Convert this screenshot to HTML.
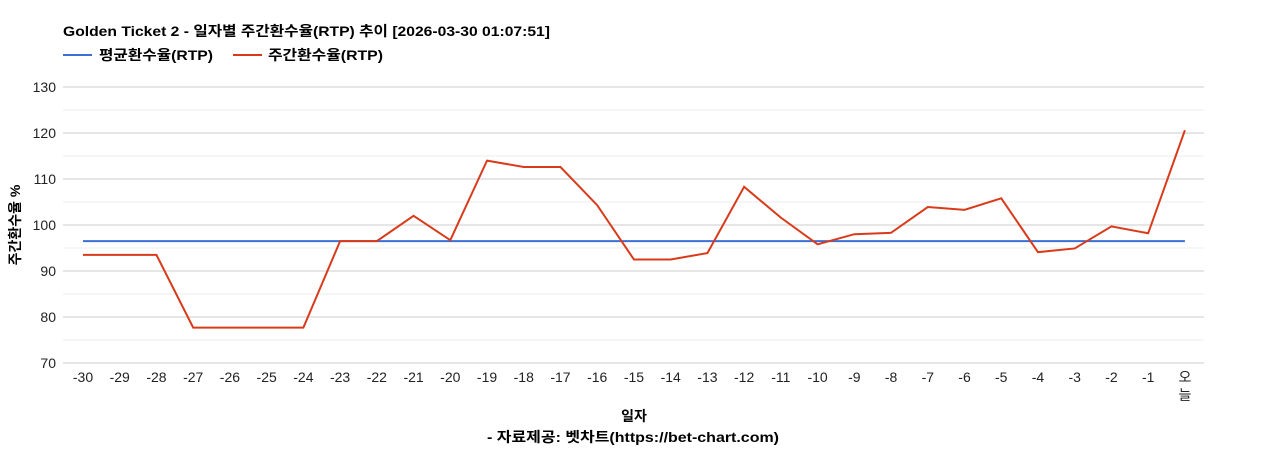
<!DOCTYPE html>
<html><head><meta charset="utf-8"><style>
body{margin:0;background:#fff;width:1268px;height:450px;overflow:hidden}
text{font-family:"Liberation Sans","Noto Sans CJK KR",sans-serif}
</style></head><body>
<svg width="1268" height="450" xmlns="http://www.w3.org/2000/svg">
<text x="63" y="36" font-size="14" font-weight="bold" fill="#000" textLength="487" lengthAdjust="spacingAndGlyphs">Golden Ticket 2 - 일자별 주간환수율(RTP) 추이 [2026-03-30 01:07:51]</text>
<line x1="63" y1="55" x2="92" y2="55" stroke="#3b6fd4" stroke-width="2"/>
<text x="99" y="60" font-size="14" font-weight="bold" textLength="114" lengthAdjust="spacingAndGlyphs">평균환수율(RTP)</text>
<line x1="233" y1="55" x2="262" y2="55" stroke="#d93a1a" stroke-width="2"/>
<text x="268" y="60" font-size="14" font-weight="bold" textLength="115" lengthAdjust="spacingAndGlyphs">주간환수율(RTP)</text>
<g id="grid"></g>
<g font-size="14" text-anchor="end" fill="#222" id="yl"></g>
<g font-size="14" text-anchor="middle" fill="#222" id="xl"></g>
<polyline id="avg" fill="none" stroke="#3b6fd4" stroke-width="2"/>
<polyline id="rtp" fill="none" stroke="#d93a1a" stroke-width="2"/>
<text transform="translate(20,225) rotate(-90)" font-size="14" font-weight="bold" text-anchor="middle">주간환수율 %</text>
<text x="634" y="421" font-size="14" font-weight="bold" text-anchor="middle">일자</text>
<text x="487" y="442" font-size="14" font-weight="bold" textLength="292" lengthAdjust="spacingAndGlyphs">- 자료제공: 벳차트(https://bet-chart.com)</text>
</svg>
<script>
const ns="http://www.w3.org/2000/svg";
const Y=v=>363-(v-70)*4.6, X=i=>83+i*36.73;
const g=document.getElementById('grid'),yl=document.getElementById('yl'),xl=document.getElementById('xl');
for(let v=70;v<=130;v+=5){const l=document.createElementNS(ns,'line');l.setAttribute('x1',63);l.setAttribute('x2',1204);l.setAttribute('y1',Y(v));l.setAttribute('y2',Y(v));l.setAttribute('stroke',v%10?'#ececec':'#cccccc');l.setAttribute('stroke-width',1);g.appendChild(l);
if(v%10==0){const t=document.createElementNS(ns,'text');t.setAttribute('x',56);t.setAttribute('y',Y(v)+5);t.textContent=v;yl.appendChild(t);}}
const d=[93.5,93.5,93.5,77.7,77.7,77.7,77.7,96.5,96.5,102,96.7,114,112.6,112.6,104.3,92.5,92.5,93.9,108.3,101.6,95.8,98,98.3,103.9,103.3,105.8,94.1,94.9,99.7,98.2,120.6];
document.getElementById('rtp').setAttribute('points',d.map((v,i)=>X(i)+','+Y(v)).join(' '));
document.getElementById('avg').setAttribute('points',X(0)+','+Y(96.5)+' '+X(30)+','+Y(96.5));
for(let i=0;i<31;i++){if(i<30){const t=document.createElementNS(ns,'text');t.setAttribute('x',X(i));t.setAttribute('y',382);t.textContent=i-30;xl.appendChild(t);}
else{['오','늘'].forEach((c,k)=>{const t=document.createElementNS(ns,'text');t.setAttribute('x',X(i));t.setAttribute('y',382+k*18);t.textContent=c;xl.appendChild(t);});}}
</script>
</body></html>
